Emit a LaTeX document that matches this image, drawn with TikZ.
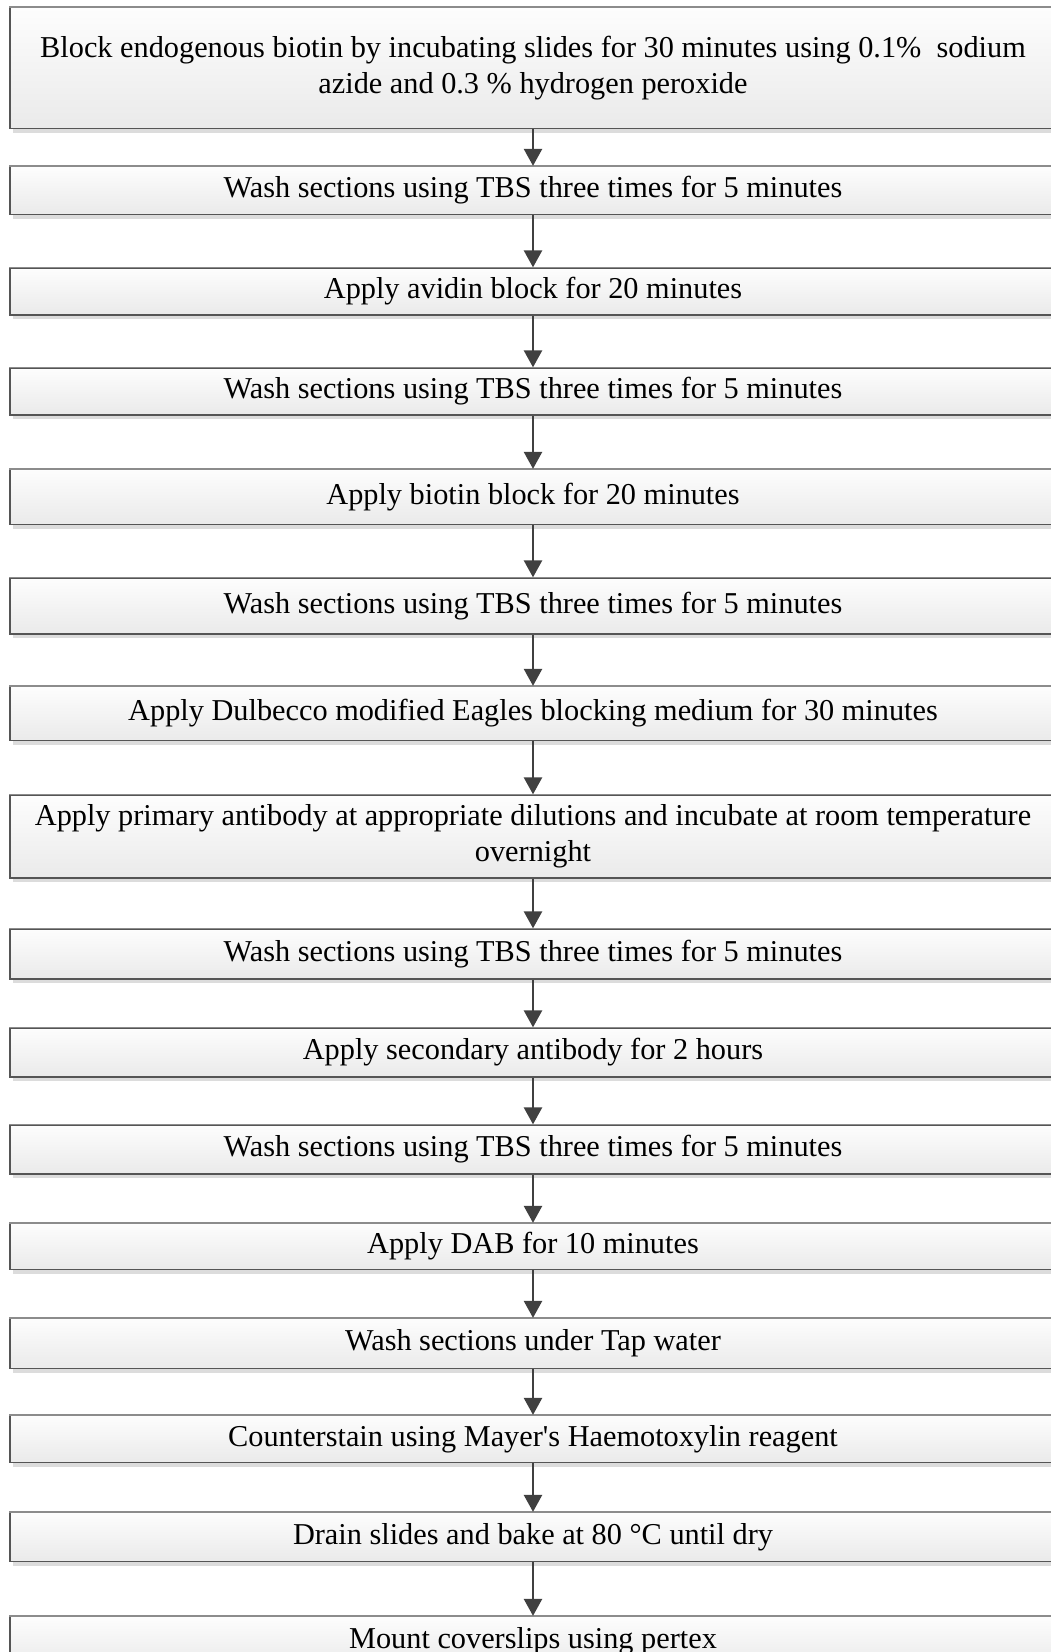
\documentclass[tikz,border=0pt]{standalone}
\usepackage{fontspec}
\setmainfont{Liberation Serif}
\usetikzlibrary{arrows.meta,shadows}

\definecolor{edge}{HTML}{555555}
\definecolor{edgetop}{HTML}{8C8C8C}
\definecolor{arrowc}{HTML}{404040}
\definecolor{shadowc}{HTML}{DCDCDC}
\definecolor{filltop}{HTML}{FDFDFD}
\definecolor{fillbot}{HTML}{EAEAEA}

\tikzset{
  stepbox/.style={draw=edge, line width=1.3pt, top color=filltop, bottom color=fillbot,
    minimum width=1046pt, inner sep=0pt, align=center, text=black,
    font=\fontsize{30.3}{35.8}\selectfont,
    drop shadow={shadow xshift=3pt, shadow yshift=-4pt, fill=shadowc, opacity=1}},
  flow/.style={draw=arrowc, line width=2.6pt, -{Triangle[width=18pt,length=17pt]}},
  topline/.style={draw=edgetop, line width=1.3pt},
}

\begin{document}
\begin{tikzpicture}[x=1pt, y=-1pt]
  \useasboundingbox (0,0) rectangle (1051,1652);
  \clip (0,0) rectangle (1051,1652);

  % protocol steps, top to bottom
  \node[stepbox, minimum height=121pt] (b1) at (533,68)
    {Block endogenous biotin by incubating slides for 30 minutes using 0.1\%\ \ sodium\\azide and 0.3 \% hydrogen peroxide};
  \node[stepbox, minimum height=48pt] (b2) at (533,190.5) {Wash sections using TBS three times for 5 minutes};
  \node[stepbox, minimum height=47pt] (b3) at (533,291.5) {Apply avidin block for 20 minutes};
  \node[stepbox, minimum height=47pt] (b4) at (533,391.5) {Wash sections using TBS three times for 5 minutes};
  \node[stepbox, minimum height=55pt] (b5) at (533,497) {Apply biotin block for 20 minutes};
  \node[stepbox, minimum height=56pt] (b6) at (533,606) {Wash sections using TBS three times for 5 minutes};
  \node[stepbox, minimum height=54pt] (b7) at (533,713.5) {Apply Dulbecco modified Eagles blocking medium for 30 minutes};
  \node[stepbox, minimum height=83pt] (b8) at (533,836.5)
    {Apply primary antibody at appropriate dilutions and incubate at room temperature\\overnight};
  \node[stepbox, minimum height=50pt] (b9) at (533,954) {Wash sections using TBS three times for 5 minutes};
  \node[stepbox, minimum height=49pt] (b10) at (533,1052.5) {Apply secondary antibody for 2 hours};
  \node[stepbox, minimum height=49pt] (b11) at (533,1149.5) {Wash sections using TBS three times for 5 minutes};
  \node[stepbox, minimum height=46pt] (b12) at (533,1246.5) {Apply DAB for 10 minutes};
  \node[stepbox, minimum height=50pt] (b13) at (533,1343.5) {Wash sections under Tap water};
  \node[stepbox, minimum height=47pt] (b14) at (533,1439) {Counterstain using Mayer\textquotesingle s Haemotoxylin reagent};
  \node[stepbox, minimum height=49pt] (b15) at (533,1537) {Drain slides and bake at 80 °C until dry};
  \node[stepbox, minimum height=49pt] (b16) at (533,1641) {Mount coverslips using pertex};

  % lighter upper edges
  \foreach \i in {1,...,16}
    \draw[topline] (b\i.north west) -- (b\i.north east);

  % connectors
  \foreach \i [evaluate=\i as \j using int(\i+1)] in {1,...,15}
    \draw[flow] (b\i.south) -- (b\j.north);
\end{tikzpicture}
\end{document}
